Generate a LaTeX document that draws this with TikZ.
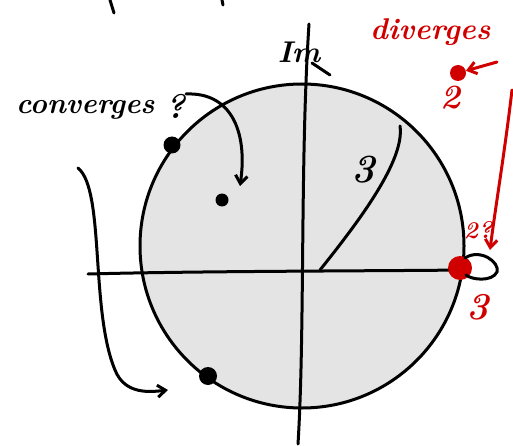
\documentclass[tikz,border=0pt]{standalone}
\usetikzlibrary{arrows.meta}
\definecolor{inkred}{RGB}{208,0,0}
\definecolor{disk}{RGB}{228,228,228}
\tikzset{
  ink/.style={line width=3pt, line cap=round, line join=round},
  redink/.style={ink, draw=inkred},
  dot/.style={circle, fill=black, inner sep=0pt, minimum size=#1},
  reddot/.style={circle, fill=inkred, inner sep=0pt, minimum size=#1},
  hand/.style={font=\fontsize{#1}{#1}\selectfont\bfseries\itshape, inner sep=0pt},
  redhand/.style={hand=#1, text=inkred},
  tip/.style={-{Straight Barb[length=8pt,width=12pt,line width=3pt]}}
}
\begin{document}
\begin{tikzpicture}[x=1pt,y=-1pt]
\useasboundingbox (0,0) rectangle (513,446);
\clip (0,0) rectangle (513,446);
% disk
\draw[ink, fill=disk] (302,246) circle[radius=162];
% axes
\draw[ink] (88,274) .. controls (200,271) and (380,271) .. (462,270);
\draw[ink] (298,444) .. controls (305,330) and (300,160) .. (309,24);
\node[hand=30] (im) at (299,52) {Im};
\coordinate (imtail) at (330,75);
\draw[ink] (312,63) -- (imtail);
% radius 3
\draw[ink] (320,270) .. controls (360,220) and (405,160) .. (400,126);
\node[hand=40] (r3) at (363,170) {3};
% points
\node[dot=17pt] (p1) at (172,145) {};
\node[dot=13pt] (a) at (222,200) {};
\node[dot=18pt] (p3) at (208,376) {};
\node[reddot=24pt] (q) at (460,268) {};
\node[reddot=16pt] (q2) at (458,73) {};
% converges label and arrow
\node[hand=29, anchor=west] (conv) at (16,110) {converges};
\node[hand=34] (qm) at (176,106) {?};
\coordinate (c1) at (186,94);
\coordinate (c2) at (240,186);
\draw[ink, tip] (c1) .. controls (230,92) and (248,130) .. (c2);
% left bracket arrow
\coordinate (l1) at (78,168);
\coordinate (l2) at (168,390);
\draw[ink, tip] (l1) .. controls (105,190) and (90,310) .. (115,370) .. controls (125,395) and (150,392) .. (l2);
% loop on the right
\draw[ink] (465,258) .. controls (480,248) and (500,262) .. (497,272) .. controls (492,282) and (472,280) .. (466,275);
% divergence labels
\node[redhand=30, anchor=west] (div) at (370,32) {diverges};
\coordinate (d1) at (497,62);
\draw[redink, tip] (d1) -- (q2);
\node[redhand=34] (two) at (451,98) {2};
\coordinate (e1) at (512,90);
\coordinate (e2) at (490,250);
\draw[redink, tip] (e1) .. controls (505,150) and (495,210) .. (e2);
\node[redhand=24] (twoq) at (478,230) {2?};
\node[redhand=38] (three) at (478,307) {3};
% partial text at top
\draw[ink] (110,0) -- (114,13);
\draw[ink] (222,0) -- (223,5);
\end{tikzpicture}
\end{document}
